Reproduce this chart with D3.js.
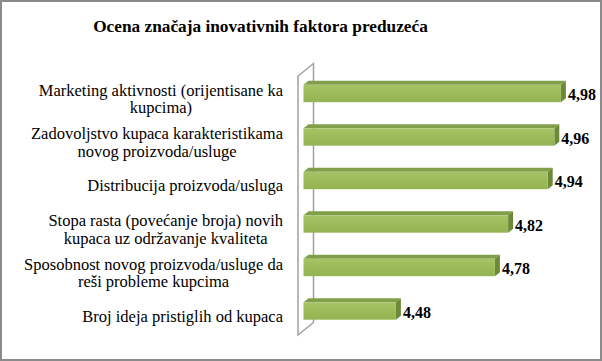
<!DOCTYPE html>
<html>
<head>
<meta charset="utf-8">
<script src="https://cdn.jsdelivr.net/npm/d3@7"></script>
<style>
	html, body { margin: 0; padding: 0; background: #fff; }
	svg { display: block; }
</style>
</head>
<body>
<div id="chart"></div>
<script>

	// 데이터
	var chartTitle = "Ocena značaja inovativnih faktora preduzeća";
	var categories = [
		"Marketing aktivnosti (orijentisane ka\nkupcima)",
		"Zadovoljstvo kupaca karakteristikama\nnovog proizvoda/usluge",
		"Distribucija proizvoda/usluga",
		"Stopa rasta (povećanje broja) novih\nkupaca uz održavanje kvaliteta",
		"Sposobnost novog proizvoda/usluge da\nreši probleme kupcima",
		"Broj ideja pristiglih od kupaca"
	];
	var values = [4.98, 4.96, 4.94, 4.82, 4.78, 4.48];
	var valueLabels = ["4,98", "4,96", "4,94", "4,82", "4,78", "4,48"];
	var axisDomain = [4.2, 5.0];

	var FONT = "'Liberation Serif'";

	function makeBar3D( div_id, pWidth, pHeight ){

		var svg = d3.select("#" + div_id).append("svg")
					.attr("width", pWidth)
					.attr("height", pHeight);

		// 그라데이션
		var grad = svg.append("defs").append("linearGradient")
					.attr("id", "barFront")
					.attr("x1", 0).attr("y1", 0).attr("x2", 0).attr("y2", 1);
		grad.append("stop").attr("offset", "0%").attr("stop-color", "#a6c466");
		grad.append("stop").attr("offset", "50%").attr("stop-color", "#9bbb59");
		grad.append("stop").attr("offset", "100%").attr("stop-color", "#94b453");

		// 외곽 테두리
		svg.append("rect")
			.attr("x", 1).attr("y", 1)
			.attr("width", pWidth - 2).attr("height", pHeight - 2)
			.attr("fill", "#fff")
			.attr("stroke", "#8a8a8a")
			.attr("stroke-width", 2);

		// 제목
		svg.append("text")
			.attr("x", 260.5)
			.attr("y", 26)
			.attr("dy", "0.35em")
			.attr("text-anchor", "middle")
			.style("font-family", FONT)
			.style("font-weight", "bold")
			.style("font-size", "17.3px")
			.text(chartTitle);

		// 축(axis)
		var x = d3.scaleLinear().domain(axisDomain).range([303.5, 567.5]);
		var y = d3.scaleBand().domain(categories).range([71.75, 332.75])
					.paddingInner(0.6).paddingOuter(0.3);

		var dx = 5, dy = -4;	// 3D 깊이

		// 벽 (category wall)
		var wx = x(axisDomain[0]) - 5.5, wd = 15.5, wTop = 76, wBot = 335, wdy = -12.5;
		svg.append("path")
			.attr("d", "M" + wx + "," + wBot + " L" + wx + "," + wTop +
					" L" + (wx + wd) + "," + (wTop + wdy) + " L" + (wx + wd) + "," + (wBot + wdy) + " Z")
			.attr("fill", "#fff")
			.attr("stroke", "#a0a0a0")
			.attr("stroke-width", 1.5);

		// 막대
		var bars = svg.append("g").selectAll("g")
					.data(categories)
					.enter().append("g");

		bars.each(function(d, i){
			var g = d3.select(this);
			var x0 = x(axisDomain[0]), x1 = x(values[i]);
			var y0 = y(d), h = y.bandwidth();

			// top
			g.append("path")
				.attr("d", "M" + x0 + "," + y0 + " L" + (x0 + dx) + "," + (y0 + dy) +
						" L" + (x1 + dx) + "," + (y0 + dy) + " L" + x1 + "," + y0 + " Z")
				.attr("fill", "#819f49");
			// side
			g.append("path")
				.attr("d", "M" + x1 + "," + y0 + " L" + (x1 + dx) + "," + (y0 + dy) +
						" L" + (x1 + dx) + "," + (y0 + dy + h) + " L" + x1 + "," + (y0 + h) + " Z")
				.attr("fill", "#6c8937");
			// front
			g.append("rect")
				.attr("x", x0).attr("y", y0)
				.attr("width", x1 - x0).attr("height", h)
				.attr("fill", "url(#barFront)");

			// 값 레이블
			g.append("text")
				.attr("x", x1 + dx + 2)
				.attr("y", y0 + h / 2 + 1)
				.attr("dy", "0.35em")
				.style("font-family", FONT)
				.style("font-weight", "bold")
				.style("font-size", "16px")
				.text(valueLabels[i]);
		});

		// 카테고리 레이블 (오른쪽 정렬 블록, 줄은 가운데 정렬)
		var labelRight = 283, lineH = 17.5;
		categories.forEach(function(d, i){
			var lines = d.split("\n");
			var cy = y(d) + y.bandwidth() / 2 + 5;
			var lg = svg.append("g")
						.attr("text-anchor", "middle");
			var texts = lines.map(function(line, k){
				return lg.append("text")
						.attr("y", cy + (k - (lines.length - 1) / 2) * lineH)
						.attr("dy", "0.35em")
						.style("font-family", FONT)
						.style("font-size", "16.5px")
						.text(line);
			});
			var maxW = d3.max(texts, function(t){ return t.node().getComputedTextLength(); });
			texts.forEach(function(t){ t.attr("x", labelRight - maxW / 2); });
		});
	}

	makeBar3D("chart", 602, 361);

</script>
</body>
</html>
